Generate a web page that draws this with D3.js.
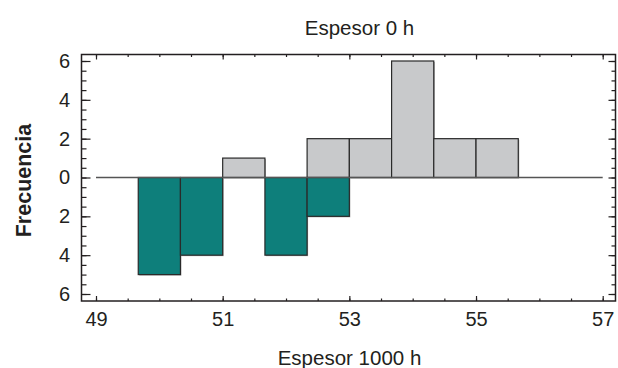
<!DOCTYPE html>
<html>
<head>
<meta charset="utf-8">
<script src="https://cdn.jsdelivr.net/npm/d3@7"></script>
<style>
  body { margin: 0; background: #fff; }
  text { font-family: "Liberation Sans", Arial, sans-serif; fill: #231f20; }
</style>
</head>
<body>
<svg id="chart" width="618" height="368"></svg>
<script>
// histogram bins (edges) and counts for both series
var bin_edges = [49.667, 50.333, 51.0, 51.667, 52.333, 53.0, 53.667, 54.333, 55.0, 55.667];
var counts_0h = [0, 0, 1, 0, 2, 2, 6, 2, 2];
var counts_1000h = [5, 4, 0, 4, 2, 0, 0, 0, 0];
var x_labels = [49, 51, 53, 55, 57];
var y_labels = [-6, -4, -2, 0, 2, 4, 6];

var svg = d3.select('#chart');
var frame = {left: 81.5, right: 615.5, top: 54.5, bottom: 301};

var x = d3.scaleLinear().domain([49, 57]).range([96, 602.7]);
var y = d3.scaleLinear().domain([-6, 6]).range([294, 61]);

var bins = [];
for (var i = 0; i < counts_0h.length; i++) {
	bins.push({x0: bin_edges[i], x1: bin_edges[i + 1], up: counts_0h[i], down: counts_1000h[i]});
}

// faint shadow on bars
svg.append('g').selectAll('rect')
	.data(bins.filter(function(d) { return d.up > 0; }))
	.enter().append('rect')
	.attr('x', function(d) { return x(d.x0) + 1; })
	.attr('y', function(d) { return y(d.up) + 1; })
	.attr('width', function(d) { return x(d.x1) - x(d.x0); })
	.attr('height', function(d) { return y(0) - y(d.up); })
	.attr('fill', '#aaa');
svg.append('g').selectAll('rect')
	.data(bins.filter(function(d) { return d.down > 0; }))
	.enter().append('rect')
	.attr('x', function(d) { return x(d.x0) + 1; })
	.attr('y', y(0) + 1)
	.attr('width', function(d) { return x(d.x1) - x(d.x0); })
	.attr('height', function(d) { return y(-d.down) - y(0); })
	.attr('fill', '#aaa');

// 0 h bars going up
svg.append('g').selectAll('rect')
	.data(bins.filter(function(d) { return d.up > 0; }))
	.enter().append('rect')
	.attr('x', function(d) { return x(d.x0); })
	.attr('y', function(d) { return y(d.up); })
	.attr('width', function(d) { return x(d.x1) - x(d.x0); })
	.attr('height', function(d) { return y(0) - y(d.up); })
	.attr('fill', '#c8c9cb')
	.attr('stroke', '#2a2a2a')
	.attr('stroke-width', 1.2);

// 1000 h bars going down
svg.append('g').selectAll('rect')
	.data(bins.filter(function(d) { return d.down > 0; }))
	.enter().append('rect')
	.attr('x', function(d) { return x(d.x0); })
	.attr('y', y(0))
	.attr('width', function(d) { return x(d.x1) - x(d.x0); })
	.attr('height', function(d) { return y(-d.down) - y(0); })
	.attr('fill', '#0e7f7b')
	.attr('stroke', '#2a2a2a')
	.attr('stroke-width', 1.2);

// zero line
svg.append('line')
	.attr('x1', x(49)).attr('x2', x(57))
	.attr('y1', y(0)).attr('y2', y(0))
	.attr('stroke', '#555').attr('stroke-width', 1.5);

// axes: minor ticks then major ticks, all pointing inward
var x_minor = d3.range(49, 57.01, 0.5);
var y_minor = d3.range(-6, 6.01, 0.5);

function style_axis(g) {
	g.select('.domain').remove();
	g.selectAll('line').attr('stroke', '#231f20').attr('stroke-width', 1.2);
	g.selectAll('text').attr('fill', '#231f20');
}

svg.append('g').attr('transform', 'translate(0,' + frame.bottom + ')')
	.call(d3.axisBottom(x).tickValues(x_minor).tickSize(-2.5).tickFormat(''))
	.call(style_axis);
svg.append('g').attr('transform', 'translate(0,' + frame.bottom + ')')
	.call(d3.axisBottom(x).tickValues(x_labels).tickSize(-5).tickPadding(11).tickFormat(d3.format('d')))
	.call(style_axis)
	.selectAll('text').style('font-size', '20px');
svg.append('g').attr('transform', 'translate(0,' + frame.top + ')')
	.call(d3.axisTop(x).tickValues(x_minor).tickSize(-2.5).tickFormat(''))
	.call(style_axis);
svg.append('g').attr('transform', 'translate(0,' + frame.top + ')')
	.call(d3.axisTop(x).tickValues(x_labels).tickSize(-5).tickFormat(''))
	.call(style_axis);

svg.append('g').attr('transform', 'translate(' + frame.left + ',0)')
	.call(d3.axisLeft(y).tickValues(y_minor).tickSize(-5).tickFormat(''))
	.call(style_axis);
svg.append('g').attr('transform', 'translate(' + frame.left + ',0)')
	.call(d3.axisLeft(y).tickValues(y_labels).tickSize(-9).tickPadding(11.5).tickFormat(function(d) { return Math.abs(d); }))
	.call(style_axis)
	.selectAll('text').style('font-size', '20px');
svg.append('g').attr('transform', 'translate(' + frame.right + ',0)')
	.call(d3.axisRight(y).tickValues(y_minor).tickSize(-4).tickFormat(''))
	.call(style_axis);
svg.append('g').attr('transform', 'translate(' + frame.right + ',0)')
	.call(d3.axisRight(y).tickValues(y_labels).tickSize(-7).tickFormat(''))
	.call(style_axis);

// frame
svg.append('rect')
	.attr('x', frame.left).attr('y', frame.top)
	.attr('width', frame.right - frame.left)
	.attr('height', frame.bottom - frame.top)
	.attr('fill', 'none')
	.attr('stroke', '#231f20')
	.attr('stroke-width', 1.5);

// titles
svg.append('text')
	.attr('x', 359.5).attr('y', 35)
	.attr('text-anchor', 'middle')
	.style('font-size', '20.5px')
	.text('Espesor 0 h');
svg.append('text')
	.attr('x', 349.5).attr('y', 365)
	.attr('text-anchor', 'middle')
	.style('font-size', '20.5px')
	.text('Espesor 1000 h');
svg.append('text')
	.attr('transform', 'translate(30.5,180.5) rotate(-90)')
	.attr('text-anchor', 'middle')
	.style('font-size', '21.5px')
	.style('font-weight', 'bold')
	.text('Frecuencia');
</script>
</body>
</html>
